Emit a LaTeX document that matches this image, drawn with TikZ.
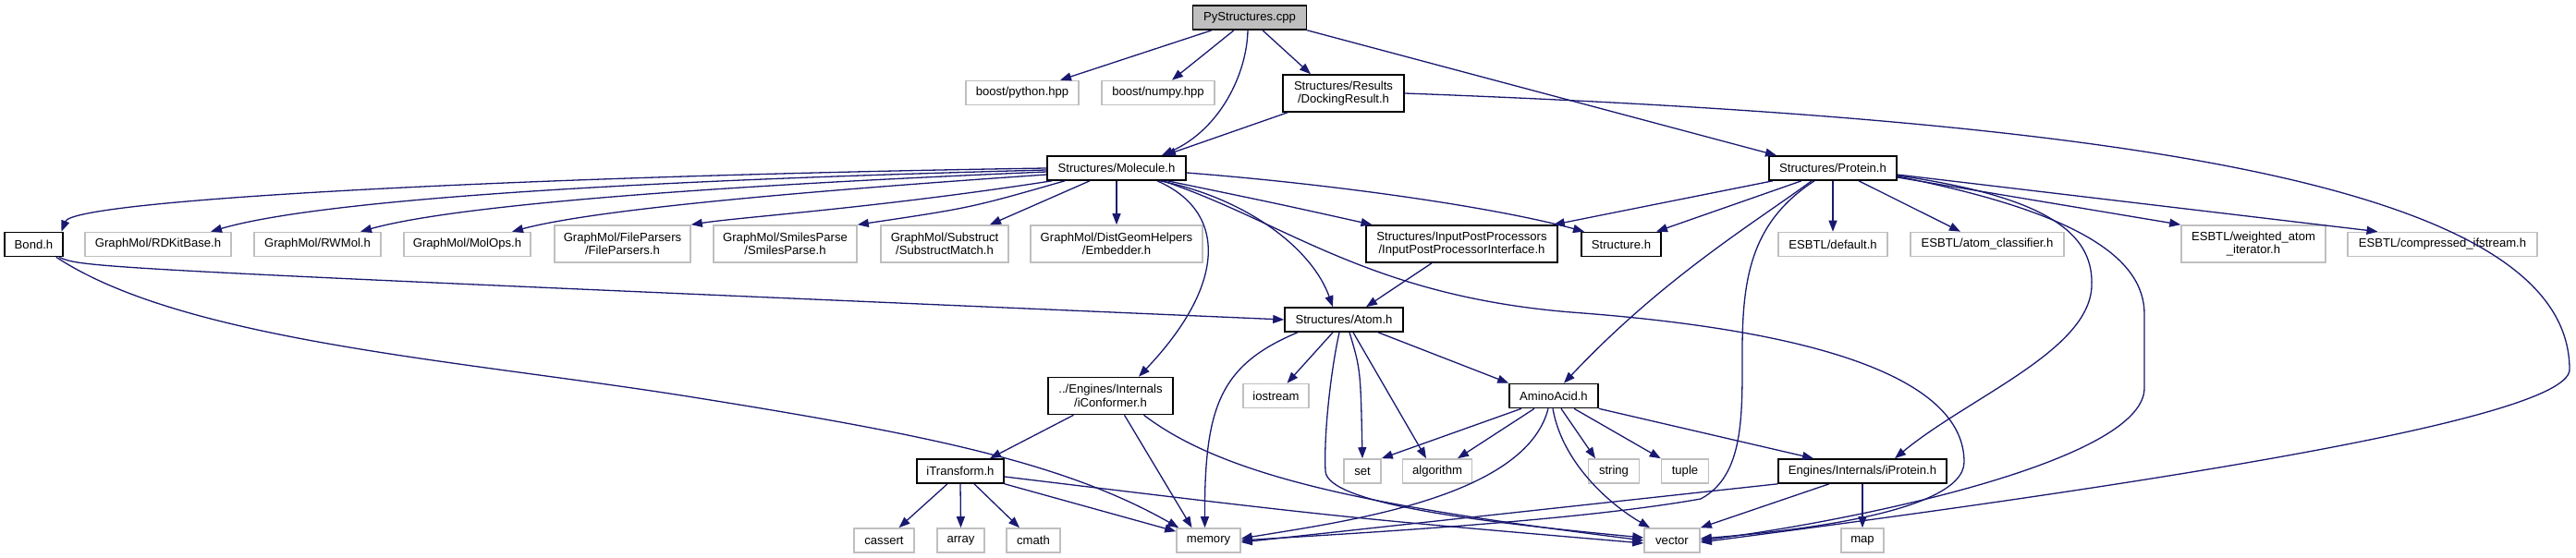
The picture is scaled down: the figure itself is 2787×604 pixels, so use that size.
\documentclass[tikz,border=0pt]{standalone}
\usepackage{fontspec}
\setmainfont{Liberation Sans}
\usetikzlibrary{arrows.meta}
\definecolor{edgeblue}{HTML}{191970}
\definecolor{extgray}{HTML}{BFBFBF}
\definecolor{rootgray}{HTML}{BFBFBF}
\tikzset{
  every node/.style={font=\fontsize{13.1pt}{14.6pt}\selectfont, align=center, inner sep=0pt},
  inc/.style={draw=black, line width=1.6pt, fill=white, minimum height=26pt},
  ext/.style={draw=extgray, line width=1.6pt, fill=white, minimum height=26pt},
  root/.style={inc, fill=rootgray},
  tall/.style={minimum height=40pt},
  dep/.style={draw=edgeblue, line width=1.3pt, -{Triangle[length=12pt,width=9pt]}},
}
\begin{document}
\begin{tikzpicture}[x=1pt,y=-1pt]
\useasboundingbox (0,0) rectangle (2787,604);
% ---- nodes ----
\node[root, minimum width=123pt] (py) at (1352,19) {PyStructures.cpp};
\node[ext, minimum width=122pt] (bpy) at (1106,100.5) {boost/python.hpp};
\node[ext, minimum width=122pt] (bnp) at (1253,100.5) {boost/numpy.hpp};
\node[inc, tall, minimum width=131pt] (dock) at (1453.5,101) {Structures/Results\\/DockingResult.h};
\node[inc, minimum width=150pt] (mol) at (1208,182) {Structures/Molecule.h};
\node[inc, minimum width=138pt] (prot) at (1983,182) {Structures/Protein.h};
\node[inc, minimum width=63pt] (bond) at (36.5,264.5) {Bond.h};
\node[ext, minimum width=158pt] (rdkit) at (171,264.5) {GraphMol/RDKitBase.h};
\node[ext, minimum width=137pt] (rwmol) at (343.5,264.5) {GraphMol/RWMol.h};
\node[ext, minimum width=137pt] (molops) at (505.5,264.5) {GraphMol/MolOps.h};
\node[ext, tall, minimum width=147pt] (fparse) at (673.5,264) {GraphMol/FileParsers\\/FileParsers.h};
\node[ext, tall, minimum width=155pt] (smiles) at (849.5,264) {GraphMol/SmilesParse\\/SmilesParse.h};
\node[ext, tall, minimum width=138pt] (subst) at (1022,264) {GraphMol/Substruct\\/SubstructMatch.h};
\node[ext, tall, minimum width=186pt] (embed) at (1208,264) {GraphMol/DistGeomHelpers\\/Embedder.h};
\node[inc, tall, minimum width=207pt] (ipp) at (1581.5,264) {Structures/InputPostProcessors\\/InputPostProcessorInterface.h};
\node[inc, minimum width=86pt] (struct) at (1754,264.5) {Structure.h};
\node[ext, minimum width=118pt] (edef) at (1983,264.5) {ESBTL/default.h};
\node[ext, minimum width=166pt] (eatom) at (2150,264.5) {ESBTL/atom\_classifier.h};
\node[ext, tall, minimum width=156pt] (ewa) at (2438,264) {ESBTL/weighted\_atom\\\_iterator.h};
\node[ext, minimum width=205pt] (ecomp) at (2642.5,264.5) {ESBTL/compressed\_ifstream.h};
\node[inc, minimum width=128pt] (atom) at (1454,346) {Structures/Atom.h};
\node[inc, tall, minimum width=135pt] (iconf) at (1201.5,428.5) {../Engines/Internals\\/iConformer.h};
\node[ext, minimum width=71pt] (iostream) at (1380.5,428.5) {iostream};
\node[inc, minimum width=96pt] (amino) at (1681,428.5) {AminoAcid.h};
\node[inc, minimum width=94pt] (itrans) at (1039,510) {iTransform.h};
\node[ext, minimum width=40pt] (set) at (1474,510) {set};
\node[ext, minimum width=75pt] (algorithm) at (1555,510) {algorithm};
\node[ext, minimum width=55pt] (string) at (1746,510) {string};
\node[ext, minimum width=51pt] (tuple) at (1823,510) {tuple};
\node[inc, minimum width=182pt] (iprot) at (2015,510) {Engines/Internals/iProtein.h};
\node[ext, minimum width=65pt] (cassert) at (956.5,585) {cassert};
\node[ext, minimum width=51pt] (array) at (1039.5,585) {array};
\node[ext, minimum width=58pt] (cmath) at (1118,585) {cmath};
\node[ext, minimum width=69pt] (memory) at (1307.5,585) {memory};
\node[ext, minimum width=60pt] (vector) at (1809,585) {vector};
\node[ext, minimum width=46pt] (map) at (2015,585) {map};
% ---- edges: PyStructures.cpp ----
\draw[dep] ([xshift=-41pt]py.south) -- ([xshift=41pt]bpy.north);
\draw[dep] ([xshift=-17pt]py.south) -- ([xshift=15pt]bnp.north);
\draw[dep] ([xshift=-2pt]py.south) .. controls (1349,80) and (1320,140) .. ([xshift=49pt]mol.north);
\draw[dep] ([xshift=14pt]py.south) -- ([xshift=-35.5pt]dock.north);
\draw[dep] (py.south east) -- ([xshift=-61pt]prot.north);
% ---- DockingResult.h ----
\draw[dep] ([xshift=-60.5pt]dock.south) -- ([xshift=52pt]mol.north);
\draw[dep] (dock.east) .. controls (2300,130) and (2780,200) .. (2780,400)
  .. controls (2780,460) and (2200,540) .. ([yshift=-2pt]vector.east);
% ---- Molecule.h ----
\draw[dep] (mol.west) .. controls (600,190) and (80,215) .. ([xshift=30pt]bond.north);
\draw[dep] ([yshift=-2pt]mol.west) .. controls (700,195) and (350,215) .. ([xshift=57pt]rdkit.north);
\draw[dep] ([yshift=-4pt]mol.west) .. controls (800,200) and (500,220) .. ([xshift=46.5pt]rwmol.north);
\draw[dep] ([yshift=-7pt]mol.west) .. controls (900,205) and (650,225) .. ([xshift=48.5pt]molops.north);
\draw[dep] ([xshift=-70pt]mol.south) .. controls (950,225) and (800,235) .. (fparse.north east);
\draw[dep] ([xshift=-56pt]mol.south) .. controls (1050,225) .. (smiles.north east);
\draw[dep] ([xshift=-29pt]mol.south) -- ([xshift=49pt]subst.north);
\draw[dep] (mol.south) -- (embed.north);
\draw[dep] ([xshift=44pt]mol.south) .. controls (1330,230) and (1325,310) .. ([xshift=30.5pt]iconf.north);
\draw[dep] ([xshift=47pt]mol.south) .. controls (1350,215) and (1420,270) .. ([xshift=-12pt]atom.north);
\draw[dep] ([xshift=55pt]mol.south) .. controls (1380,220) .. ([xshift=-97pt]ipp.north);
\draw[dep] ([yshift=-5pt]mol.east) .. controls (1450,200) and (1620,225) .. ([xshift=-40pt]struct.north);
\draw[dep] ([xshift=50pt]mol.south) .. controls (1390,240) and (1480,320) .. (1700,338)
  .. controls (2000,360) and (2125,420) .. (2125,500)
  .. controls (2125,560) and (1900,578) .. ([yshift=2pt]vector.east);
% ---- Bond.h ----
\draw[dep] ([xshift=-5pt]bond.south east) .. controls (90,290) .. (atom.west);
\draw[dep] ([xshift=-8pt]bond.south east) .. controls (200,370) and (500,390) .. (750,430)
  .. controls (1000,470) and (1150,500) .. ([xshift=3pt]memory.north west);
% ---- Protein.h ----
\draw[dep] ([xshift=-65pt]prot.south) -- ([xshift=-5pt]ipp.north east);
\draw[dep] ([xshift=-34pt]prot.south) -- ([xshift=38pt]struct.north);
\draw[dep] ([xshift=-23pt]prot.south) .. controls (1900,240) and (1800,300) .. ([xshift=11pt]amino.north);
\draw[dep] ([xshift=-20pt]prot.south) .. controls (1895,240) and (1885,300) .. (1885,380)
  .. controls (1885,450) and (1887,515) .. (1840,540)
  .. controls (1700,565) and (1450,578) .. (memory.east);
\draw[dep] (prot.south) -- (edef.north);
\draw[dep] ([xshift=28pt]prot.south) -- ([xshift=-29pt]eatom.north);
\draw[dep] ([yshift=-8pt]prot.east) .. controls (2230,215) and (2265,260) .. (2263,310)
  .. controls (2260,380) and (2130,430) .. ([xshift=35pt]iprot.north);
\draw[dep] ([yshift=-9pt]prot.east) .. controls (2250,230) and (2320,280) .. (2320,340)
  -- (2320,420) .. controls (2320,500) and (2000,565) .. (vector.east);
\draw[dep] ([yshift=-10pt]prot.east) -- (ewa.north west);
\draw[dep] ([yshift=-7pt]prot.east) -- ([xshift=-70pt]ecomp.north);
% ---- InputPostProcessorInterface.h ----
\draw[dep] ([xshift=-32.5pt]ipp.south) -- ([xshift=24pt]atom.north);
% ---- Atom.h ----
\draw[dep] ([xshift=-12pt]atom.south) -- ([xshift=12pt]iostream.north);
\draw[dep] ([xshift=-50pt]atom.south) .. controls (1320,395) and (1303,440) .. ([xshift=-4pt]memory.north);
\draw[dep] ([xshift=-5pt]atom.south) .. controls (1440,400) and (1432,470) .. (1434,510)
  .. controls (1436,545) and (1600,565) .. ([yshift=3pt]vector.west);
\draw[dep] ([xshift=6pt]atom.south) .. controls (1472,400) .. (set.north);
\draw[dep] ([xshift=10pt]atom.south) -- ([xshift=-12pt]algorithm.north);
\draw[dep] ([xshift=37pt]atom.south) -- (amino.north west);
% ---- iConformer.h ----
\draw[dep] ([xshift=-40pt]iconf.south) -- ([xshift=32pt]itrans.north);
\draw[dep] ([xshift=15pt]iconf.south) -- ([xshift=-18pt]memory.north);
\draw[dep] ([xshift=36pt]iconf.south) .. controls (1330,520) and (1500,550) .. (vector.west);
% ---- iTransform.h ----
\draw[dep] ([xshift=-14pt]itrans.south) -- ([xshift=16pt]cassert.north);
\draw[dep] (itrans.south) -- (array.north);
\draw[dep] ([xshift=15pt]itrans.south) -- ([xshift=-15pt]cmath.north);
\draw[dep] (itrans.south east) -- ([yshift=-4pt]memory.north west);
\draw[dep] ([yshift=-6pt]itrans.east) .. controls (1450,560) .. ([yshift=-3pt]vector.west);
% ---- AminoAcid.h ----
\draw[dep] ([xshift=-35pt]amino.south) -- (set.north east);
\draw[dep] ([xshift=-21pt]amino.south) -- ([xshift=22pt]algorithm.north);
\draw[dep] ([xshift=-6pt]amino.south) .. controls (1650,540) and (1450,565) .. ([yshift=2pt]memory.east);
\draw[dep] ([xshift=-1pt]amino.south) .. controls (1690,500) and (1740,545) .. ([xshift=-24pt]vector.north);
\draw[dep] ([xshift=8pt]amino.south) -- ([xshift=-20pt]string.north);
\draw[dep] ([xshift=22pt]amino.south) -- (tuple.north west);
\draw[dep] (amino.south east) -- ([xshift=-53pt]iprot.north);
% ---- iProtein.h ----
\draw[dep] (iprot.south west) -- ([yshift=-2pt]memory.east);
\draw[dep] ([xshift=-36pt]iprot.south) -- (vector.north east);
\draw[dep] (iprot.south) -- (map.north);
\end{tikzpicture}
\end{document}
